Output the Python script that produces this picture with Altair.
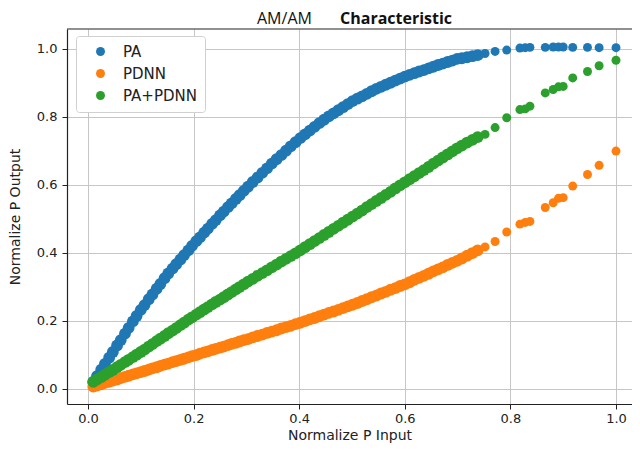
import altair as alt
import pandas as pd

SERIES = ["PA", "PDNN", "PA+PDNN"]
COLORS = ["#1f77b4", "#ff7f0e", "#2ca02c"]
X_TICKS = [0.0, 0.2, 0.4, 0.6, 0.8, 1.0]
Y_TICKS = [0.0, 0.2, 0.4, 0.6, 0.8, 1.0]

X_IN = [
    0.010, 0.017, 0.025, 0.032, 0.040, 0.047, 0.055, 0.062, 0.070, 0.077,
    0.085, 0.092, 0.100, 0.107, 0.115, 0.122, 0.130, 0.137, 0.145, 0.152,
    0.160, 0.167, 0.175, 0.182, 0.190, 0.197, 0.205, 0.212, 0.220, 0.227,
    0.235, 0.242, 0.250, 0.257, 0.265, 0.272, 0.280, 0.287, 0.295,
    0.303, 0.312, 0.321, 0.330, 0.339, 0.348, 0.357, 0.366, 0.375, 0.384,
    0.393, 0.402, 0.411, 0.420, 0.429, 0.438, 0.447, 0.456, 0.465, 0.474,
    0.483, 0.492, 0.501, 0.510, 0.519, 0.528, 0.537, 0.546, 0.555, 0.564,
    0.573, 0.582, 0.591, 0.600, 0.609, 0.618, 0.627, 0.636, 0.645, 0.654,
    0.663, 0.672, 0.681, 0.690, 0.699, 0.708, 0.718, 0.728, 0.738,
    0.752, 0.771, 0.793, 0.818, 0.828, 0.837, 0.866, 0.881, 0.891, 0.900,
    0.918, 0.946, 0.968, 1.000,
]

PA_OUT = [
    0.020, 0.037, 0.056, 0.073, 0.091, 0.108, 0.127, 0.143, 0.162, 0.179,
    0.198, 0.214, 0.232, 0.246, 0.263, 0.277, 0.294, 0.308, 0.325, 0.339,
    0.353, 0.366, 0.380, 0.393, 0.407, 0.420, 0.434, 0.445, 0.459, 0.471,
    0.485, 0.496, 0.510, 0.521, 0.534, 0.545, 0.558, 0.569, 0.582,
    0.594, 0.608, 0.621, 0.635, 0.648, 0.662, 0.675, 0.687, 0.700, 0.713,
    0.725, 0.737, 0.748, 0.759, 0.770, 0.781, 0.791, 0.801, 0.810, 0.819,
    0.828, 0.837, 0.846, 0.853, 0.860, 0.867, 0.875, 0.882, 0.888, 0.894,
    0.900, 0.906, 0.912, 0.918, 0.923, 0.928, 0.933, 0.937, 0.942, 0.947,
    0.952, 0.956, 0.961, 0.965, 0.970, 0.972, 0.975, 0.978, 0.981,
    0.986, 0.992, 0.996, 1.002, 1.003, 1.004, 1.004, 1.005, 1.005, 1.005,
    1.004, 1.004, 1.003, 1.003,
]

PDNN_OUT = [
    0.006, 0.009, 0.013, 0.017, 0.020, 0.024, 0.027, 0.031, 0.035, 0.038,
    0.042, 0.045, 0.049, 0.052, 0.056, 0.060, 0.063, 0.067, 0.071, 0.074,
    0.078, 0.081, 0.085, 0.088, 0.092, 0.096, 0.099, 0.103, 0.107, 0.110,
    0.114, 0.117, 0.121, 0.124, 0.128, 0.132, 0.135, 0.139, 0.143,
    0.146, 0.151, 0.155, 0.159, 0.164, 0.168, 0.172, 0.177, 0.181, 0.185,
    0.190, 0.194, 0.199, 0.204, 0.208, 0.213, 0.218, 0.223, 0.227, 0.232,
    0.237, 0.242, 0.247, 0.252, 0.258, 0.263, 0.269, 0.274, 0.280, 0.285,
    0.291, 0.296, 0.302, 0.307, 0.313, 0.320, 0.326, 0.332, 0.338, 0.345,
    0.351, 0.357, 0.364, 0.370, 0.376, 0.383, 0.391, 0.399, 0.407,
    0.417, 0.433, 0.461, 0.484, 0.489, 0.492, 0.533, 0.547, 0.560, 0.562,
    0.596, 0.630, 0.657, 0.699,
]

PA_PDNN_OUT = [
    0.020, 0.027, 0.034, 0.041, 0.049, 0.055, 0.063, 0.070, 0.078, 0.085,
    0.093, 0.100, 0.108, 0.115, 0.124, 0.131, 0.140, 0.147, 0.155, 0.163,
    0.171, 0.178, 0.187, 0.194, 0.203, 0.210, 0.218, 0.225, 0.233, 0.240,
    0.248, 0.255, 0.262, 0.269, 0.277, 0.284, 0.292, 0.299, 0.307,
    0.315, 0.323, 0.332, 0.340, 0.348, 0.357, 0.365, 0.374, 0.382, 0.390,
    0.398, 0.407, 0.416, 0.425, 0.434, 0.443, 0.452, 0.461, 0.470, 0.479,
    0.488, 0.497, 0.506, 0.515, 0.524, 0.534, 0.543, 0.552, 0.561, 0.570,
    0.579, 0.589, 0.598, 0.607, 0.616, 0.625, 0.634, 0.643, 0.652, 0.662,
    0.671, 0.680, 0.689, 0.698, 0.707, 0.715, 0.724, 0.732, 0.740,
    0.748, 0.768, 0.797, 0.821, 0.823, 0.831, 0.870, 0.880, 0.888, 0.889,
    0.914, 0.933, 0.950, 0.966,
]

rows = []
for name, ys in zip(SERIES, [PA_OUT, PDNN_OUT, PA_PDNN_OUT]):
    for xv, yv in zip(X_IN, ys):
        rows.append({"x": xv, "y": yv, "series": name})
df = pd.DataFrame(rows)

W, H = 565, 375
FONT = "DejaVu Sans"
INK = "#222222"

points = alt.Chart(df).mark_circle(opacity=1, strokeWidth=0).encode(
    x=alt.X(
        "x:Q",
        scale=alt.Scale(domain=[-0.0398, 1.0303], nice=False, zero=False),
        axis=alt.Axis(values=X_TICKS, format=".1f", title="Normalize P Input",
                      titleFontSize=14, labelPadding=3, titlePadding=3,
                      labelFlush=False),
    ),
    y=alt.Y(
        "y:Q",
        scale=alt.Scale(domain=[-0.045, 1.058], nice=False, zero=False),
        axis=alt.Axis(values=Y_TICKS, format=".1f", title="Normalize P Output",
                      titleFontSize=14, labelPadding=5, titlePadding=14,
                      labelFlush=False),
    ),
    color=alt.Color(
        "series:N",
        scale=alt.Scale(domain=SERIES, range=COLORS),
        sort=SERIES,
        legend=alt.Legend(
            title=None, orient="none", legendX=9, legendY=7,
            symbolType="circle", symbolSize=80, symbolStrokeWidth=0,
            labelFont=FONT, labelFontSize=15, labelColor=INK,
            padding=8, symbolOffset=9, labelOffset=15, rowPadding=6,
            fillColor="white", strokeColor="#d0d0d0", cornerRadius=3,
        ),
    ),
    size=alt.condition("datum.x < 0.745", alt.value(140), alt.value(80)),
)

one = pd.DataFrame({"k": [0]})

top_rule = alt.Chart(one).mark_rule(color=INK, strokeWidth=1.2).encode(
    x=alt.value(0), x2=alt.value(W), y=alt.value(0)
)

t1 = alt.Chart(one).mark_text(
    text="AM/AM", font="Open Sans", fontSize=16, align="left",
    baseline="middle", color="#111111"
).encode(x=alt.value(190), y=alt.value(-10))

t2 = alt.Chart(one).mark_text(
    text="Characteristic", font="Open Sans", fontSize=16, fontWeight="bold",
    align="left", baseline="middle", color="#111111"
).encode(x=alt.value(273), y=alt.value(-10))

chart = (
    alt.layer(top_rule, points, t1, t2)
    .properties(
        width=W, height=H,
        padding={"left": 59, "top": 21, "right": 0, "bottom": 40},
        autosize=alt.AutoSizeParams(type="none"),
    )
    .configure_view(stroke=None)
    .configure_axis(
        domainColor=INK, domainWidth=1.2, tickColor=INK, tickSize=5,
        tickWidth=1, labelFont=FONT, labelFontSize=13, labelColor=INK,
        titleFont=FONT, titleFontWeight="normal", titleColor=INK,
        gridColor="#c6c6c6", gridWidth=1,
    )
)

chart.save("out.html", embed_options={"renderer": "svg", "actions": False})
